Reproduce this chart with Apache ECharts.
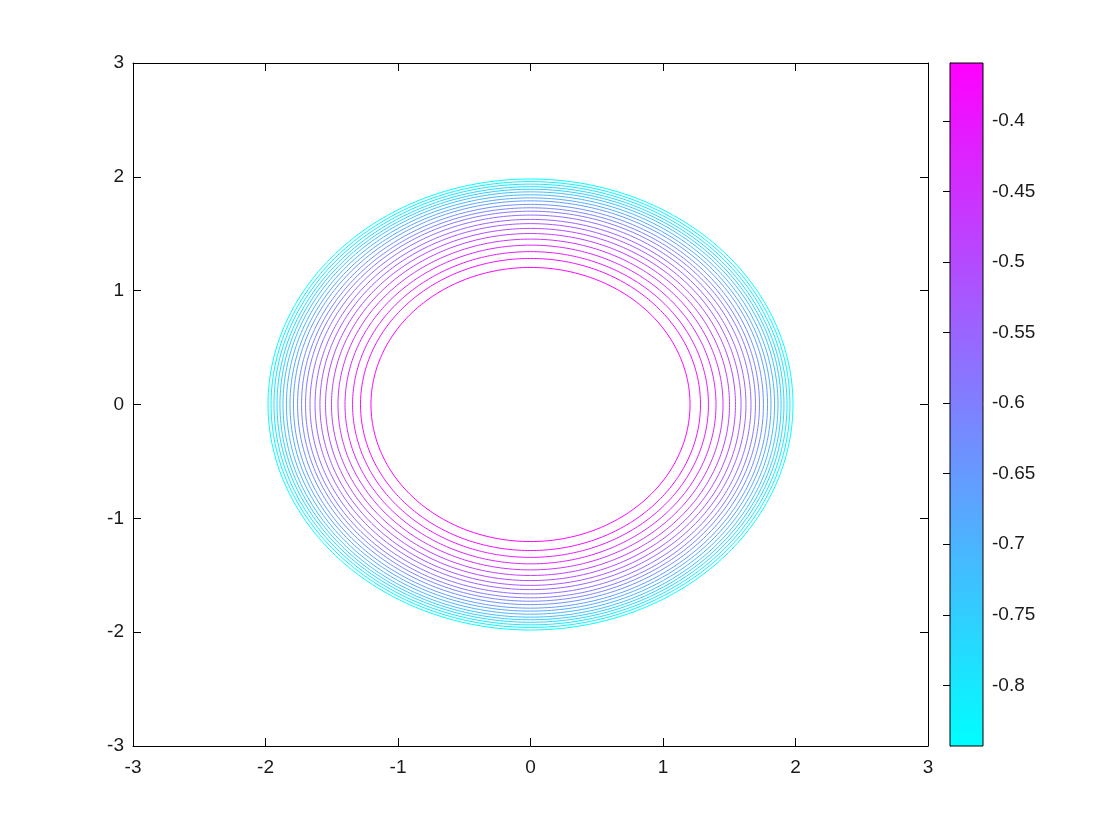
<!DOCTYPE html>
<html>
<head>
<meta charset="utf-8">
<script src="https://cdn.jsdelivr.net/npm/echarts@6/dist/echarts.min.js"></script>
<style>html,body{margin:0;padding:0;background:#fff;}#c{width:1120px;height:840px;}</style>
</head>
<body>
<div id="c"></div>
<script>
// Contour ring radii and their levels
const ringRadii = [1.204, 1.283, 1.343, 1.400, 1.453, 1.502, 1.547, 1.589, 1.626, 1.664, 1.698,
                   1.728, 1.758, 1.789, 1.815, 1.842, 1.868, 1.891, 1.913, 1.936, 1.958, 1.981];
const ringLevels = [-0.359, -0.382, -0.405, -0.428, -0.451, -0.474, -0.497, -0.520, -0.543, -0.566, -0.589,
                    -0.612, -0.635, -0.658, -0.681, -0.704, -0.727, -0.750, -0.774, -0.797, -0.820, -0.843];
const axisTicks = [-3, -2, -1, 0, 1, 2, 3];
const colorbarMin = -0.843;
const colorbarMax = -0.359;
const colorbarTicks = [-0.8, -0.75, -0.7, -0.65, -0.6, -0.55, -0.5, -0.45, -0.4];

const ringData = ringRadii.map((r, i) => [r, ringLevels[i]]);
const font = {fontFamily: 'Liberation Sans, Arial, sans-serif', fontSize: 19, color: '#1a1a1a'};
const lineStyle = {color: '#000', width: 1};

function mainAxis(pos, show, margin) {
  return {
    type: 'value', gridIndex: 0, position: pos, min: -3, max: 3, interval: 1,
    axisLine: {show: true, onZero: false, lineStyle: lineStyle},
    axisTick: {show: true, inside: true, length: 8, lineStyle: lineStyle},
    axisLabel: Object.assign({show: show, margin: margin, formatter: v => String(v)}, font),
    splitLine: {show: false}
  };
}

const chart = echarts.init(document.getElementById('c'), null, {renderer: 'canvas'});
chart.setOption({
  backgroundColor: '#fff',
  animation: false,
  grid: [
    {left: 133, right: 192, top: 63, bottom: 94},
    {left: 950, width: 33, top: 63, bottom: 94}
  ],
  xAxis: [
    mainAxis('bottom', true, 12),
    mainAxis('top', false, 8),
    {type: 'value', gridIndex: 1, min: 0, max: 1, show: false}
  ],
  yAxis: [
    mainAxis('left', true, 9),
    mainAxis('right', false, 8),
    {
      type: 'value', gridIndex: 1, position: 'right', min: colorbarMin, max: colorbarMax,
      axisLine: {show: true, lineStyle: lineStyle},
      axisTick: {show: true, inside: true, length: 7, lineStyle: lineStyle, customValues: colorbarTicks},
      axisLabel: Object.assign({show: true, margin: 9, customValues: colorbarTicks,
        formatter: v => String(Math.round(v * 100) / 100)}, font),
      splitLine: {show: false}
    }
  ],
  visualMap: {
    show: false, type: 'continuous', seriesIndex: 0, dimension: 1,
    min: colorbarMin, max: colorbarMax,
    inRange: {color: ['#00ffff', '#ff00ff']}
  },
  series: [
    {
      type: 'custom', xAxisIndex: 0, yAxisIndex: 0, coordinateSystem: 'cartesian2d',
      encode: {x: 0, y: 0},
      data: ringData,
      renderItem: function (params, api) {
        const r = api.value(0);
        const pts = [];
        for (let i = 0; i <= 360; i++) {
          const t = i * Math.PI / 180;
          pts.push(api.coord([r * Math.cos(t), r * Math.sin(t)]));
        }
        return {type: 'polyline', shape: {points: pts},
          style: {stroke: api.visual('color'), fill: null, lineWidth: 1}};
      }
    },
    {
      type: 'custom', xAxisIndex: 2, yAxisIndex: 2, coordinateSystem: 'cartesian2d',
      data: [[0, colorbarMin]],
      renderItem: function (params, api) {
        const p0 = api.coord([0, colorbarMax]);
        const p1 = api.coord([1, colorbarMin]);
        return {
          type: 'rect',
          shape: {x: p0[0], y: p0[1], width: p1[0] - p0[0], height: p1[1] - p0[1]},
          style: {
            fill: new echarts.graphic.LinearGradient(0, 0, 0, 1, [
              {offset: 0, color: '#ff00ff'}, {offset: 1, color: '#00ffff'}
            ]),
            stroke: '#000', lineWidth: 1
          }
        };
      }
    }
  ]
});
</script>
</body>
</html>
